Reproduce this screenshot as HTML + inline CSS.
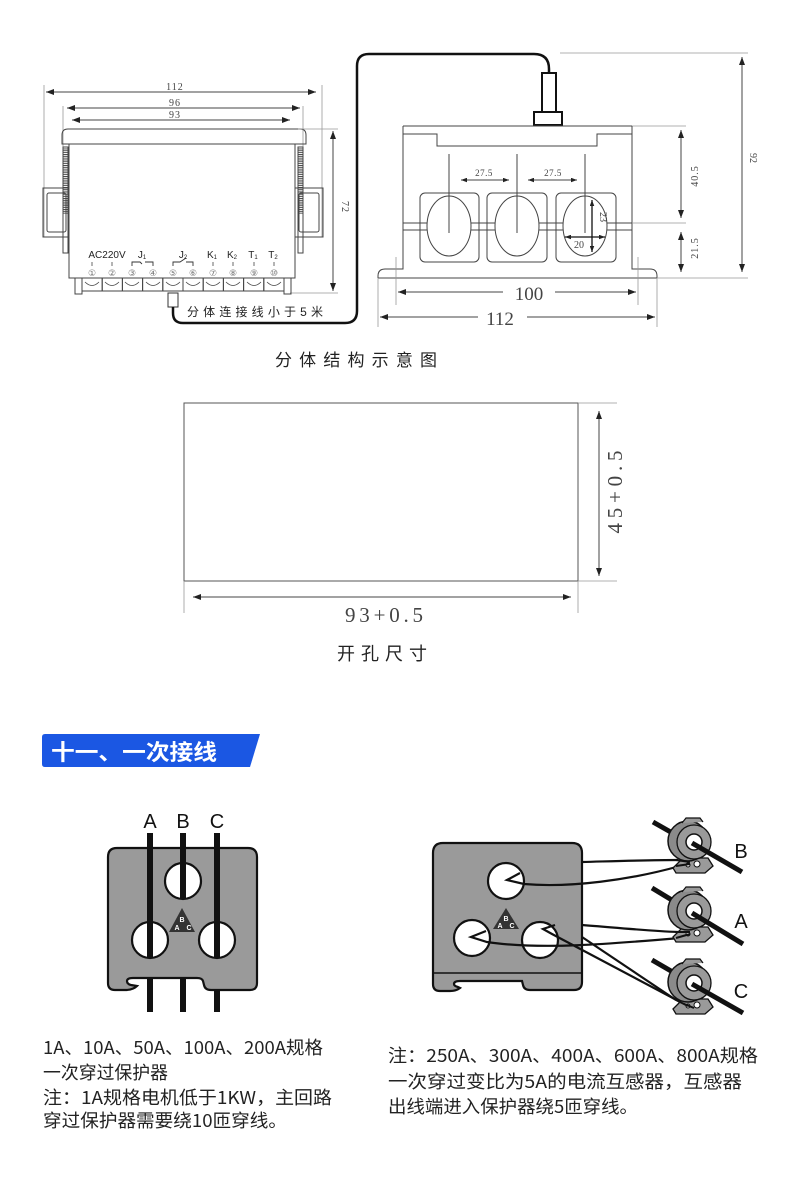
<!DOCTYPE html>
<html><head><meta charset="utf-8">
<style>
html,body{margin:0;padding:0;background:#fff;}
svg{display:block;}
.d{stroke:#444;stroke-width:1;fill:none;}
.lt{stroke:#999;stroke-width:0.8;fill:none;}
.ser{font-family:"Liberation Serif",serif;fill:#444;}
.san{font-family:"Liberation Sans",sans-serif;fill:#222;}
.cjk{font-family:"Liberation Sans","Noto Sans CJK SC",sans-serif;fill:#222;}
</style></head><body>
<svg width="800" height="1200" viewBox="0 0 800 1200" xmlns="http://www.w3.org/2000/svg">
<defs>
<marker id="ah" viewBox="0 0 8 6" refX="8" refY="3" markerWidth="8" markerHeight="6" markerUnits="userSpaceOnUse" orient="auto-start-reverse"><path d="M0,0 L8,3 L0,6 z" fill="#222"/></marker>
<marker id="ahs" viewBox="0 0 8 6" refX="8" refY="3" markerWidth="6" markerHeight="4.5" markerUnits="userSpaceOnUse" orient="auto-start-reverse"><path d="M0,0 L8,3 L0,6 z" fill="#222"/></marker>
<pattern id="hatch" width="5" height="2.2" patternUnits="userSpaceOnUse"><rect width="5" height="1.1" fill="#444"/></pattern>
</defs>

<!-- ===== TOP LEFT DEVICE ===== -->
<g>
<line class="lt" x1="44" y1="85" x2="44" y2="237"/>
<line class="lt" x1="322" y1="85" x2="322" y2="237"/>
<line class="lt" x1="63" y1="106" x2="63" y2="147"/>
<line class="lt" x1="303" y1="106" x2="303" y2="147"/>
<line class="d" x1="46" y1="92" x2="316" y2="92" marker-start="url(#ah)" marker-end="url(#ah)"/>
<line class="d" x1="67" y1="108" x2="300" y2="108" marker-start="url(#ah)" marker-end="url(#ah)"/>
<line class="d" x1="72" y1="120" x2="290" y2="120" marker-start="url(#ah)" marker-end="url(#ah)"/>
<text class="ser" x="175" y="90" font-size="10" text-anchor="middle" letter-spacing="1">112</text>
<text class="ser" x="175" y="106" font-size="10" text-anchor="middle" letter-spacing="1">96</text>
<text class="ser" x="175" y="118" font-size="10" text-anchor="middle" letter-spacing="1">93</text>
<path class="d" d="M62,144 L62,135 Q62,129 68,129 L300,129 Q306,129 306,135 L306,144 Z"/>
<rect class="d" x="69" y="144" width="226" height="134"/>
<rect class="d" x="63" y="147" width="5" height="106"/>
<rect x="63.5" y="148" width="4" height="66" fill="url(#hatch)"/>
<rect class="d" x="298" y="147" width="5" height="106"/>
<rect x="298.5" y="148" width="4" height="66" fill="url(#hatch)"/>
<rect class="d" x="43" y="188" width="26" height="49"/>
<rect class="d" x="47" y="193" width="19" height="39" rx="2"/>
<rect class="d" x="295" y="188" width="28" height="49"/>
<rect class="d" x="299" y="193" width="20" height="39" rx="2"/>
<line class="lt" x1="298" y1="129" x2="338" y2="129"/>
<line class="lt" x1="290" y1="293" x2="338" y2="293"/>
<line class="d" x1="333" y1="131" x2="333" y2="291" marker-start="url(#ah)" marker-end="url(#ah)"/>
<text class="ser" x="342" y="207" font-size="10" text-anchor="middle" transform="rotate(90 342 207)" letter-spacing="1">72</text>
<text class="san" x="107" y="258" font-size="10" text-anchor="middle">AC220V</text>
<text class="san" x="142" y="258" font-size="10" text-anchor="middle">J<tspan font-size="6" dy="1">1</tspan></text>
<text class="san" x="183" y="258" font-size="10" text-anchor="middle">J<tspan font-size="6" dy="1">2</tspan></text>
<text class="san" x="212" y="258" font-size="10" text-anchor="middle">K<tspan font-size="6" dy="1">1</tspan></text>
<text class="san" x="232" y="258" font-size="10" text-anchor="middle">K<tspan font-size="6" dy="1">2</tspan></text>
<text class="san" x="253" y="258" font-size="10" text-anchor="middle">T<tspan font-size="6" dy="1">1</tspan></text>
<text class="san" x="273" y="258" font-size="10" text-anchor="middle">T<tspan font-size="6" dy="1">2</tspan></text>
<g stroke="#444" stroke-width="0.8">
<line x1="92" y1="262" x2="92" y2="266"/><line x1="112" y1="262" x2="112" y2="266"/>
<line x1="213" y1="262" x2="213" y2="266"/><line x1="233" y1="262" x2="233" y2="266"/>
<line x1="254" y1="262" x2="254" y2="266"/><line x1="274" y1="262" x2="274" y2="266"/>
</g>
<polyline points="132,266 132,262 140,262 142,264" fill="none" stroke="#333" stroke-width="0.9"/>
<polyline points="145,262 153,262 153,266" fill="none" stroke="#333" stroke-width="0.9"/>
<polyline points="173,266 173,262 180,262 186,258" fill="none" stroke="#333" stroke-width="0.9"/>
<polyline points="186,262 193,262 193,266" fill="none" stroke="#333" stroke-width="0.9"/>
<g font-family="'DejaVu Sans','Noto Sans CJK SC',sans-serif" font-size="9" fill="#777" text-anchor="middle">
<text x="92" y="276">①</text><text x="112" y="276">②</text><text x="132" y="276">③</text><text x="153" y="276">④</text><text x="173" y="276">⑤</text>
<text x="193" y="276">⑥</text><text x="213" y="276">⑦</text><text x="233" y="276">⑧</text><text x="254" y="276">⑨</text><text x="274" y="276">⑩</text>
</g>
<g class="d">
<rect x="75" y="278" width="7" height="16"/>
<rect x="284" y="278" width="7" height="16"/>
<rect x="82" y="278" width="20.2" height="13"/><rect x="102.2" y="278" width="20.2" height="13"/>
<rect x="122.4" y="278" width="20.2" height="13"/><rect x="142.6" y="278" width="20.2" height="13"/>
<rect x="162.8" y="278" width="20.2" height="13"/><rect x="183" y="278" width="20.2" height="13"/>
<rect x="203.2" y="278" width="20.2" height="13"/><rect x="223.4" y="278" width="20.2" height="13"/>
<rect x="243.6" y="278" width="20.2" height="13"/><rect x="263.8" y="278" width="20.2" height="13"/>
</g>
<g fill="none" stroke="#444" stroke-width="0.8">
<path d="M85,282 Q92,289 99,282"/><path d="M105,282 Q112,289 119,282"/><path d="M125,282 Q132,289 139,282"/>
<path d="M146,282 Q153,289 160,282"/><path d="M166,282 Q173,289 180,282"/><path d="M186,282 Q193,289 200,282"/>
<path d="M206,282 Q213,289 220,282"/><path d="M226,282 Q233,289 240,282"/><path d="M247,282 Q254,289 261,282"/>
<path d="M267,282 Q274,289 281,282"/>
</g>
<rect x="168" y="293" width="10" height="14" fill="#fff" stroke="#333" stroke-width="1"/>
<path d="M173,307 L173,313 Q173,323 183,323 L345,323 Q357,323 357,311 L357,66 Q357,54 369,54 L534,54 Q549,54 549,69 L549,73" fill="none" stroke="#111" stroke-width="2.5"/>
<text class="cjk" x="187" y="316" font-size="12" textLength="136" lengthAdjust="spacing">分体连接线小于5米</text>
</g>

<!-- ===== TOP RIGHT DEVICE ===== -->
<g>
<rect x="542" y="73" width="14" height="39" fill="#fff" stroke="#111" stroke-width="2"/>
<rect x="534" y="112" width="28" height="13" fill="#fff" stroke="#111" stroke-width="2"/>
<line class="lt" x1="560" y1="53" x2="748" y2="53"/>
<line class="d" x1="403" y1="126" x2="632" y2="126"/>
<line class="lt" x1="632" y1="126" x2="686" y2="126"/>
<path class="d" d="M403,134 L437,134 L437,146 L597,146 L597,134 L632,134"/>
<path class="d" d="M403,126 V269 H385 Q378,269 378,276 V278"/>
<path class="d" d="M632,126 V269 H650 Q657,269 657,276 V278"/>
<line class="d" x1="378" y1="278" x2="657" y2="278"/>
<line class="lt" x1="657" y1="278" x2="748" y2="278"/>
<line class="lt" x1="378" y1="278" x2="378" y2="327"/>
<line class="lt" x1="657" y1="278" x2="657" y2="327"/>
<line class="lt" x1="396" y1="257" x2="396" y2="305"/>
<line class="lt" x1="638" y1="257" x2="638" y2="305"/>
<line class="d" x1="403" y1="223" x2="632" y2="223"/>
<line class="lt" x1="632" y1="223" x2="686" y2="223"/>
<line class="d" x1="403" y1="230" x2="632" y2="230"/>
<rect class="d" x="420" y="193" width="59" height="69" rx="5"/>
<rect class="d" x="487" y="193" width="60" height="69" rx="5"/>
<rect class="d" x="556" y="193" width="60" height="69" rx="5"/>
<ellipse cx="449" cy="226" rx="22" ry="30" fill="#fff" stroke="#444" stroke-width="1"/>
<ellipse cx="517" cy="226" rx="22" ry="30" fill="#fff" stroke="#444" stroke-width="1"/>
<ellipse cx="585" cy="226" rx="22" ry="30" fill="#fff" stroke="#444" stroke-width="1"/>
<line class="d" x1="449" y1="154" x2="449" y2="233"/>
<line class="d" x1="517" y1="154" x2="517" y2="233"/>
<line class="d" x1="585" y1="154" x2="585" y2="233"/>
<line class="d" x1="461" y1="180" x2="509" y2="180" marker-start="url(#ahs)" marker-end="url(#ahs)"/>
<line class="d" x1="528" y1="180" x2="577" y2="180" marker-start="url(#ahs)" marker-end="url(#ahs)"/>
<text class="ser" x="484" y="176" font-size="9" text-anchor="middle" letter-spacing="0.5">27.5</text>
<text class="ser" x="553" y="176" font-size="9" text-anchor="middle" letter-spacing="0.5">27.5</text>
<line x1="592" y1="200" x2="592" y2="252" stroke="#111" stroke-width="1.3" marker-start="url(#ahs)" marker-end="url(#ahs)"/>
<line x1="565" y1="237" x2="605" y2="237" stroke="#111" stroke-width="1.3" marker-start="url(#ahs)" marker-end="url(#ahs)"/>
<text class="ser" x="600" y="217" font-size="10" text-anchor="middle" transform="rotate(90 600 217)">23</text>
<text class="ser" x="579" y="248" font-size="10" text-anchor="middle">20</text>
<line class="d" x1="681" y1="130" x2="681" y2="218" marker-start="url(#ah)" marker-end="url(#ah)"/>
<line class="d" x1="681" y1="232" x2="681" y2="272" marker-start="url(#ah)" marker-end="url(#ah)"/>
<line class="d" x1="742" y1="57" x2="742" y2="272" marker-start="url(#ah)" marker-end="url(#ah)"/>
<text class="ser" x="698" y="176" font-size="10" text-anchor="middle" transform="rotate(-90 698 176)" letter-spacing="1">40.5</text>
<text class="ser" x="698" y="248" font-size="10" text-anchor="middle" transform="rotate(-90 698 248)" letter-spacing="1">21.5</text>
<text class="ser" x="750" y="158" font-size="10" text-anchor="middle" transform="rotate(90 750 158)">92</text>
<line class="d" x1="398" y1="292" x2="503" y2="292" marker-start="url(#ah)"/>
<line class="d" x1="555" y1="292" x2="636" y2="292" marker-end="url(#ah)"/>
<text class="ser" x="529" y="300" font-size="19" text-anchor="middle">100</text>
<line class="d" x1="380" y1="317" x2="478" y2="317" marker-start="url(#ah)"/>
<line class="d" x1="527" y1="317" x2="655" y2="317" marker-end="url(#ah)"/>
<text class="ser" x="500" y="325" font-size="19" text-anchor="middle">112</text>
</g>

<text class="cjk" x="275" y="366" font-size="17" textLength="162" lengthAdjust="spacing" fill="#222">分体结构示意图</text>

<!-- ===== CUTOUT ===== -->
<rect x="184" y="403" width="394" height="178" fill="none" stroke="#555" stroke-width="1"/>
<line class="lt" x1="578" y1="403" x2="617" y2="403"/>
<line class="lt" x1="578" y1="581" x2="617" y2="581"/>
<line class="d" x1="599" y1="411" x2="599" y2="576" marker-start="url(#ah)" marker-end="url(#ah)"/>
<text class="ser" x="622" y="492" font-size="21" text-anchor="middle" transform="rotate(-90 622 492)" textLength="83" lengthAdjust="spacing">45+0.5</text>
<line class="lt" x1="184" y1="581" x2="184" y2="613"/>
<line class="lt" x1="578" y1="581" x2="578" y2="613"/>
<line class="d" x1="193" y1="597" x2="571" y2="597" marker-start="url(#ah)" marker-end="url(#ah)"/>
<text class="ser" x="384" y="622" font-size="21" text-anchor="middle" textLength="78" lengthAdjust="spacing">93+0.5</text>
<text class="cjk" x="337" y="660" font-size="18" textLength="90" lengthAdjust="spacing">开孔尺寸</text>

<!-- ===== HEADER ===== -->
<path d="M42,737 Q42,734 45,734 L260,734 L250,767 L45,767 Q42,767 42,764 Z" fill="#1b57e3"/>
<text x="51" y="760" font-family="'Liberation Sans','Noto Sans CJK SC',sans-serif" font-weight="bold" font-size="22" fill="#fff" textLength="166" lengthAdjust="spacingAndGlyphs">十一、一次接线</text>

<!-- ===== BOTTOM LEFT DIAGRAM ===== -->
<g>
<g stroke="#111" stroke-width="6">
<line x1="150" y1="970" x2="150" y2="1012"/>
<line x1="183" y1="970" x2="183" y2="1012"/>
<line x1="217" y1="970" x2="217" y2="1012"/>
</g>
<path d="M108,857 Q108,848 117,848 L248,848 Q257,848 257,857 L257,983 Q257,990 250,990 L211,990 Q205,990 204,985 L203,981 Q202,978 197,978 L133,978 Q127,978 127,981 Q127,984 131,985 L137,986 Q133,990 125,990 L115,990 Q108,990 108,983 Z" fill="#9a9a9a" stroke="#111" stroke-width="2.2"/>
<circle cx="183" cy="881" r="18" fill="#fff" stroke="#111" stroke-width="2.2"/>
<circle cx="150" cy="940" r="18" fill="#fff" stroke="#111" stroke-width="2.2"/>
<circle cx="217" cy="940" r="18" fill="#fff" stroke="#111" stroke-width="2.2"/>
<g stroke="#111" stroke-width="6">
<line x1="150" y1="833" x2="150" y2="957"/>
<line x1="183" y1="833" x2="183" y2="898"/>
<line x1="217" y1="833" x2="217" y2="957"/>
</g>
<polygon points="182,908 169,932 195,932" fill="#333"/>
<g font-family="'Liberation Sans',sans-serif" font-weight="bold" font-size="7" fill="#fff" text-anchor="middle">
<text x="182" y="922">B</text><text x="177" y="930">A</text><text x="189" y="930">C</text>
</g>
<g font-family="'Liberation Sans',sans-serif" font-size="20" fill="#111" text-anchor="middle">
<text x="150" y="828">A</text><text x="183" y="828">B</text><text x="217" y="828">C</text>
</g>
</g>

<!-- ===== BOTTOM RIGHT DIAGRAM ===== -->
<g>
<path d="M433,853 Q433,843 443,843 L572,843 Q582,843 582,853 L582,982 Q582,990 574,990 L530,990 Q524,990 523,985 L522,981 L460,981 Q454,981 454,984 Q454,986 458,987 L460,988 Q456,991 450,991 L440,991 Q433,991 433,984 Z" fill="#9a9a9a" stroke="#111" stroke-width="2.2"/>
<line x1="433" y1="973" x2="582" y2="973" stroke="#111" stroke-width="1.5"/>
<circle cx="506" cy="881" r="18" fill="#fff" stroke="#111" stroke-width="2.2"/>
<circle cx="472" cy="938" r="18" fill="#fff" stroke="#111" stroke-width="2.2"/>
<circle cx="540" cy="940" r="18" fill="#fff" stroke="#111" stroke-width="2.2"/>
<polygon points="506,908 493,929 519,929" fill="#333"/>
<g font-family="'Liberation Sans',sans-serif" font-weight="bold" font-size="7" fill="#fff" text-anchor="middle">
<text x="506" y="921">B</text><text x="500" y="928">A</text><text x="512" y="928">C</text>
</g>
<g fill="none" stroke="#111" stroke-width="2.2">
<path d="M582,862 C620,861 650,860 678,860"/>
<path d="M520,873 L507,880 L524,884 C570,888 630,880 680,866"/>
<path d="M582,925 C620,928 650,931 678,932"/>
<path d="M486,931 L471,937 L487,942 C540,950 610,944 680,938"/>
<path d="M555,925 L543,929 L552,934 L686,1005"/>
<path d="M582,937 L676,1000"/>
</g>
<g>
<line x1="653" y1="822" x2="690" y2="843" stroke="#111" stroke-width="5"/>
<polygon points="673,868 683,858 708,858 713,866 705,873 676,873" fill="#9a9a9a" stroke="#111" stroke-width="1.3"/>
<circle cx="697" cy="864" r="3" fill="#fff" stroke="#111" stroke-width="1"/>
<circle cx="688" cy="865" r="2" fill="#fff" stroke="#111" stroke-width="1"/>
<ellipse cx="688" cy="841" rx="20" ry="20" fill="#8a8a8a" stroke="#111" stroke-width="1.5"/>
<circle cx="694" cy="842" r="17" fill="#9a9a9a" stroke="#111" stroke-width="1.3"/>
<path d="M682,823 L686,818 L700,818 L703,822" fill="#9a9a9a" stroke="#111" stroke-width="1.2"/>
<circle cx="694" cy="842" r="8" fill="#fff" stroke="#111" stroke-width="1.5"/>
<line x1="692" y1="843" x2="742" y2="872" stroke="#111" stroke-width="5"/>
</g>
<g>
<line x1="652" y1="888" x2="690" y2="911" stroke="#111" stroke-width="5"/>
<polygon points="673,937 683,927 708,927 713,935 705,942 676,942" fill="#9a9a9a" stroke="#111" stroke-width="1.3"/>
<circle cx="697" cy="933" r="3" fill="#fff" stroke="#111" stroke-width="1"/>
<circle cx="688" cy="934" r="2" fill="#fff" stroke="#111" stroke-width="1"/>
<ellipse cx="688" cy="910" rx="20" ry="20" fill="#8a8a8a" stroke="#111" stroke-width="1.5"/>
<circle cx="694" cy="911" r="17" fill="#9a9a9a" stroke="#111" stroke-width="1.3"/>
<path d="M682,892 L686,887 L700,887 L703,891" fill="#9a9a9a" stroke="#111" stroke-width="1.2"/>
<circle cx="694" cy="911" r="8" fill="#fff" stroke="#111" stroke-width="1.5"/>
<line x1="692" y1="913" x2="743" y2="944" stroke="#111" stroke-width="5"/>
</g>
<g>
<line x1="652" y1="960" x2="690" y2="982" stroke="#111" stroke-width="5"/>
<polygon points="673,1009 683,999 708,999 713,1007 705,1014 676,1014" fill="#9a9a9a" stroke="#111" stroke-width="1.3"/>
<circle cx="697" cy="1005" r="3" fill="#fff" stroke="#111" stroke-width="1"/>
<circle cx="688" cy="1006" r="2" fill="#fff" stroke="#111" stroke-width="1"/>
<ellipse cx="688" cy="982" rx="20" ry="20" fill="#8a8a8a" stroke="#111" stroke-width="1.5"/>
<circle cx="694" cy="983" r="17" fill="#9a9a9a" stroke="#111" stroke-width="1.3"/>
<path d="M682,964 L686,959 L700,959 L703,963" fill="#9a9a9a" stroke="#111" stroke-width="1.2"/>
<circle cx="694" cy="983" r="8" fill="#fff" stroke="#111" stroke-width="1.5"/>
<line x1="692" y1="984" x2="743" y2="1013" stroke="#111" stroke-width="5"/>
</g>
<g fill="none" stroke="#111" stroke-width="2">
<path d="M676,860 L690,862"/>
<path d="M676,866 L690,864"/>
<path d="M676,932 L690,932"/>
<path d="M676,938 L690,934"/>
<path d="M676,1000 L688,1006"/>
<path d="M684,1004 L694,1008"/>
</g>
<g font-family="'Liberation Sans',sans-serif" font-size="20" fill="#111" text-anchor="middle">
<text x="741" y="858">B</text><text x="741" y="928">A</text><text x="741" y="998">C</text>
</g>
</g>

<!-- ===== BOTTOM TEXT ===== -->
<g font-family="'Noto Sans CJK SC','WenQuanYi Zen Hei',sans-serif" font-size="18" fill="#222">
<text x="43" y="1054" textLength="280" lengthAdjust="spacingAndGlyphs">1A、10A、50A、100A、200A规格</text>
<text x="43" y="1079" textLength="125" lengthAdjust="spacingAndGlyphs">一次穿过保护器</text>
<text x="43" y="1104" textLength="289" lengthAdjust="spacingAndGlyphs">注：1A规格电机低于1KW，主回路</text>
<text x="43" y="1127" textLength="244" lengthAdjust="spacingAndGlyphs">穿过保护器需要绕10匝穿线。</text>
<text x="388" y="1062" textLength="370" lengthAdjust="spacingAndGlyphs">注：250A、300A、400A、600A、800A规格</text>
<text x="388" y="1088" textLength="354" lengthAdjust="spacingAndGlyphs">一次穿过变比为5A的电流互感器，互感器</text>
<text x="388" y="1113" textLength="250" lengthAdjust="spacingAndGlyphs">出线端进入保护器绕5匝穿线。</text>
</g>
</svg>
</body></html>
